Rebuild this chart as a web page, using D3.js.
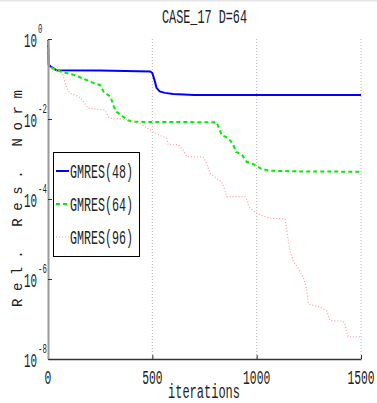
<!DOCTYPE html>
<html>
<head>
<meta charset="utf-8">
<script src="https://cdn.jsdelivr.net/npm/d3@7"></script>
<style>
  body { margin: 0; background: #fff; }
  text { font-family: "Liberation Mono", monospace; fill: #222; }
</style>
</head>
<body>
<svg id="chart" width="377" height="403"></svg>
<script>
const xTicks = [0, 500, 1000, 1500]
const yTicks = [1, 1e-2, 1e-4, 1e-6, 1e-8]
const seriesNames = ['GMRES(48)', 'GMRES(64)', 'GMRES(96)']

// GMRES(48)
const iters48 = [0, 3, 15, 40, 250, 490, 500, 510, 520, 535, 560, 600, 700, 1500]
const resid48 = [9.5e-1, 2.3e-1, 2.0e-1, 1.66e-1, 1.62e-1, 1.55e-1, 1.41e-1, 9.5e-2, 6.0e-2, 4.9e-2, 4.5e-2, 4.2e-2, 4.0e-2, 4.0e-2]

// GMRES(64)
const iters64 = [0, 5, 38, 67, 125, 163, 187, 220, 249, 268, 300, 316, 330, 359, 383, 407, 808, 832, 864, 885,
  901, 928, 952, 976, 1000, 1024, 1064, 1208, 1500]
const resid64 = [8.9e-1, 2.1e-1, 1.66e-1, 1.51e-1, 1.26e-1, 1.05e-1, 9.3e-2, 7.9e-2, 7.1e-2, 4.7e-2, 3.6e-2, 2.0e-2,
  1.5e-2, 1.15e-2, 9.3e-3, 8.5e-3, 8.3e-3, 4.0e-3, 3.3e-3, 2.45e-3, 1.5e-3, 1.32e-3, 8.5e-4, 7.8e-4, 6.6e-4,
  5.6e-4, 5.1e-4, 4.9e-4, 4.8e-4]

// GMRES(96)
const iters96 = [0, 5, 38, 66, 81, 91, 105, 144, 158, 192, 273, 288, 297, 379, 441, 474, 503, 545, 569, 576,
  624, 648, 665, 743, 760, 776, 808, 832, 840, 848, 856, 944, 955, 960, 968, 992, 1016, 1064, 1136, 1144,
  1160, 1175, 1199, 1216, 1223, 1232, 1240, 1247, 1255, 1303, 1336, 1351, 1414, 1423, 1431, 1439, 1500]
const resid96 = [8.9e-1, 2.1e-1, 1.66e-1, 1.51e-1, 8.5e-2, 5.9e-2, 4.4e-2, 3.7e-2, 3.3e-2, 1.86e-2,
  1.66e-2, 1.15e-2, 1.05e-2, 9.8e-3, 7.8e-3, 5.9e-3, 4.8e-3, 3.7e-3, 3.3e-3, 2.3e-3,
  2.3e-3, 1.66e-3, 1.15e-3, 1.12e-3, 7.8e-4, 4.4e-4, 3.3e-4, 2.7e-4, 2.1e-4, 1.66e-4,
  1.15e-4, 1.15e-4, 9.3e-5, 7.1e-5, 5.9e-5, 4.8e-5, 4.0e-5, 3.3e-5, 3.2e-5, 1.66e-5,
  5.0e-6, 2.8e-6, 1.86e-6, 1.26e-6, 1.12e-6, 7.8e-7, 5.2e-7, 2.6e-7, 2.3e-7, 2.0e-7,
  1.58e-7, 9.3e-8, 8.7e-8, 7.8e-8, 4.8e-8, 3.6e-8, 3.6e-8]

const series = [
  { name: seriesNames[0], iters: iters48, resid: resid48, color: '#0000ff', width: 2, dash: null },
  { name: seriesNames[1], iters: iters64, resid: resid64, color: '#00ee00', width: 2, dash: '4,3' },
  { name: seriesNames[2], iters: iters96, resid: resid96, color: '#ff9c9c', width: 1.2, dash: '1,2' }
]

const plotLeft = 48, plotRight = 361, plotTop = 39, plotBottom = 359

const svg = d3.select('#chart')

const x = d3.scaleLinear().domain([0, 1500]).range([plotLeft, plotRight])
const y = d3.scaleLog().domain([1e-8, 1]).range([plotBottom, plotTop])

// narrow tall text like the original figure
function addText (g, str, px, py, size, len, anchor) {
  return g.append('text')
    .attr('x', px)
    .attr('y', py)
    .attr('font-size', size)
    .attr('text-anchor', anchor || 'start')
    .attr('textLength', len)
    .attr('lengthAdjust', 'spacingAndGlyphs')
    .text(str)
}

svg.append('rect').attr('x', 0).attr('y', 0).attr('width', 377).attr('height', 1.5).attr('fill', '#e6e6e6')

// vertical dotted grid
svg.append('g')
  .selectAll('line')
  .data(xTicks.slice(1))
  .join('line')
  .attr('x1', d => x(d)).attr('x2', d => x(d))
  .attr('y1', plotTop).attr('y2', plotBottom)
  .attr('stroke', '#b4b4b4')
  .attr('stroke-width', 1)
  .attr('stroke-dasharray', '1,2')

// lines
const line = d3.line()
  .x(d => x(d[0]))
  .y(d => y(d[1]))

series.forEach(s => {
  svg.append('path')
    .datum(d3.zip(s.iters, s.resid))
    .attr('fill', 'none')
    .attr('stroke', s.color)
    .attr('stroke-width', s.width)
    .attr('stroke-dasharray', s.dash)
    .attr('d', line)
})

// axes
const xAxis = svg.append('g')
  .attr('transform', `translate(0,${plotBottom})`)
  .call(d3.axisBottom(x).tickValues(xTicks).tickSize(-4).tickSizeOuter(0).tickFormat(''))
xAxis.select('.domain').attr('stroke', '#333').attr('stroke-width', 1.5)
xAxis.selectAll('.tick line').attr('stroke', '#333')

const yAxis = svg.append('g')
  .attr('transform', `translate(${plotLeft},0)`)
  .call(d3.axisLeft(y).tickValues(yTicks).tickSize(-4).tickSizeOuter(0).tickFormat(''))
yAxis.select('.domain').attr('stroke', '#9a9a9a').attr('stroke-width', 2)
yAxis.selectAll('.tick line').attr('stroke', '#333')

// tick labels
const labels = svg.append('g')
xTicks.forEach(t => {
  addText(labels, String(t), x(t), 384, 21, String(t).length * 6.8, 'middle')
})
yTicks.forEach(t => {
  const exp = Math.round(Math.log10(t))
  addText(labels, '10', 37, y(t) + 8, 21, 13, 'end')
  const sup = String(exp)
  addText(labels, sup, 38, y(t) - 6, 12, sup.length * 4.4, 'start')
})

// title and axis labels
addText(svg, 'CASE_17 D=64', 204.5, 23, 21, 85, 'middle')
addText(svg, 'iterations', 204, 398, 20, 72, 'middle')

svg.append('text')
  .attr('transform', 'translate(22,198.5) rotate(-90)')
  .attr('font-size', 14)
  .attr('text-anchor', 'middle')
  .attr('textLength', 217)
  .attr('lengthAdjust', 'spacing')
  .text('Rel. Res. Norm')

// legend
const legend = svg.append('g')
legend.append('rect')
  .attr('x', 53.5).attr('y', 152.5)
  .attr('width', 86).attr('height', 104)
  .attr('fill', '#fff')
  .attr('stroke', '#000')
  .attr('stroke-width', 1)

series.forEach((s, i) => {
  const ly = 171 + i * 33
  legend.append('line')
    .attr('x1', 56).attr('x2', 69)
    .attr('y1', ly).attr('y2', ly)
    .attr('stroke', s.color)
    .attr('stroke-width', s.width)
    .attr('stroke-dasharray', s.dash)
  addText(legend, s.name, 70, ly + 7, 20, 63, 'start')
})
</script>
</body>
</html>
